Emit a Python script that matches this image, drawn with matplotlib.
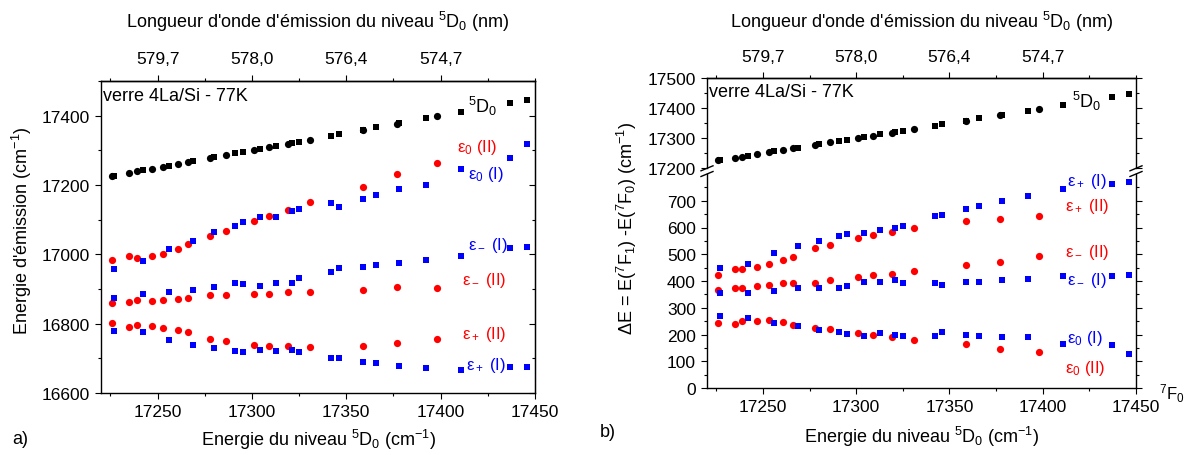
import matplotlib
matplotlib.use("Agg")
import matplotlib.pyplot as plt
import numpy as np
from matplotlib.lines import Line2D
from matplotlib.ticker import MultipleLocator

plt.rcParams["font.family"] = ["Liberation Sans", "DejaVu Sans"]
plt.rcParams["mathtext.fontset"] = "custom"
plt.rcParams["mathtext.rm"] = "Liberation Sans"
plt.rcParams["mathtext.it"] = "Liberation Sans:italic"
plt.rcParams["mathtext.bf"] = "Liberation Sans:bold"
plt.rcParams["mathtext.default"] = "regular"

W, H = 1185, 456
RED = "#ff0000"
BLUE = "#0000ff"
BLACK = "#000000"

# site II (circles): 5D0 energy and 7F1 sublevel splittings (cm-1)
e5d0_site2 = [17226, 17235, 17239, 17247, 17253, 17261, 17266, 17278, 17286,
              17301, 17309, 17319, 17331, 17359, 17377, 17398]
eps0_site2 = [243, 239, 249, 252, 253, 246, 237, 225, 219, 206, 198, 191, 181, 166, 146, 134]
epsm_site2 = [367, 372, 372, 382, 386, 391, 391, 394, 403, 416, 422, 428, 439, 461, 472, 495]
epsp_site2 = [423, 444, 444, 453, 465, 479, 491, 522, 536, 562, 573, 582, 597, 623, 632, 642]

# site I (squares)
e5d0_site1 = [17227, 17242, 17256, 17269, 17280, 17291, 17295, 17304, 17313, 17321,
              17325, 17342, 17346, 17359, 17366, 17378, 17392, 17411, 17437, 17446]
eps0_site1 = [269, 262, 242, 231, 216, 209, 201, 196, 205, 197,
              194, 194, 209, 200, 194, 190, 192, 164, 159, 128]
epsm_site1 = [354, 357, 364, 372, 375, 375, 380, 395, 397, 403,
              394, 394, 386, 395, 398, 402, 408, 417, 418, 424]
epsp_site1 = [447, 465, 503, 531, 551, 570, 576, 580, 591, 598,
              607, 642, 645, 670, 680, 699, 719, 745, 763, 770]

wl_ticks = [17250, 17300, 17350, 17400]
wl_labels = ["579,7", "578,0", "576,4", "574,7"]

FS = 13
TICK_FS = 12.5
LAB_FS = 12


def px_rect(x0, y0, x1, y1):
    return [x0 / W, 1 - y1 / H, (x1 - x0) / W, (y1 - y0) / H]


def style(ax):
    for sp in ax.spines.values():
        sp.set_linewidth(1.0)
    ax.tick_params(which="major", length=4.5, width=0.8, labelsize=TICK_FS, direction="out")
    ax.tick_params(which="minor", length=2.5, width=0.8, direction="out")


def wavelength_axis(ax):
    sec = ax.secondary_xaxis("top")
    sec.set_xticks(wl_ticks, labels=wl_labels)
    sec.xaxis.set_minor_locator(MultipleLocator(25))
    sec.tick_params(which="major", length=4.5, width=0.8, labelsize=TICK_FS, pad=6)
    sec.tick_params(which="minor", length=2.5, width=0.8)
    sec.spines["top"].set_linewidth(1.0)
    return sec


fig = plt.figure(figsize=(W / 100, H / 100), dpi=100)
fig.patch.set_facecolor("white")

mk = dict(linestyle="none", markeredgewidth=0)
circ = dict(marker="o", markersize=5.2, **mk)
sq = dict(marker="s", markersize=4.6, **mk)

# ---------------- panel a ----------------
axa = fig.add_axes(px_rect(101, 82, 535, 394))
style(axa)
axa.set_xlim(17220, 17450)
axa.set_ylim(16600, 17500)
axa.xaxis.set_major_locator(MultipleLocator(50))
axa.xaxis.set_minor_locator(MultipleLocator(25))
axa.yaxis.set_major_locator(MultipleLocator(200))
axa.yaxis.set_minor_locator(MultipleLocator(100))
axa.set_yticks([16600, 16800, 17000, 17200, 17400])

x2 = np.array(e5d0_site2)
x1 = np.array(e5d0_site1)
axa.plot(x2, x2, color=BLACK, **circ)
axa.plot(x1, x1, color=BLACK, **sq)
for eps in (eps0_site2, epsm_site2, epsp_site2):
    axa.plot(x2, x2 - np.array(eps), color=RED, **circ)
for eps in (eps0_site1, epsm_site1, epsp_site1):
    axa.plot(x1, x1 - np.array(eps), color=BLUE, **sq)

wavelength_axis(axa)
secr = axa.secondary_yaxis("right")
secr.yaxis.set_major_locator(MultipleLocator(200))
secr.yaxis.set_minor_locator(MultipleLocator(100))
secr.tick_params(which="major", direction="in", length=4.5, width=0.8, labelright=False)
secr.tick_params(which="minor", direction="in", length=2.5, width=0.8, labelright=False)

axa.text(17221, 17457, "verre 4La/Si - 77K", fontsize=FS, ha="left", va="center")
axa.text(17414.5, 17429, "$^5$D$_0$", fontsize=FS, color=BLACK, ha="left", va="center")
axa.text(17408.7, 17312, "ε$_0$ (II)", fontsize=LAB_FS, color=RED, ha="left", va="center")
axa.text(17414.5, 17232, "ε$_0$ (I)", fontsize=LAB_FS, color=BLUE, ha="left", va="center")
axa.text(17414.5, 17027, "ε$_-$ (I)", fontsize=LAB_FS, color=BLUE, ha="left", va="center")
axa.text(17411.3, 16927, "ε$_-$ (II)", fontsize=LAB_FS, color=RED, ha="left", va="center")
axa.text(17411.3, 16773, "ε$_+$ (II)", fontsize=LAB_FS, color=RED, ha="left", va="center")
axa.text(17413.4, 16681, "ε$_+$ (I)", fontsize=LAB_FS, color=BLUE, ha="left", va="center")

# ---------------- panel b ----------------
axt = fig.add_axes(px_rect(707, 79.3, 1136, 169.3))
axb = fig.add_axes(px_rect(707, 175, 1136, 389))
for ax in (axt, axb):
    style(ax)
    ax.set_xlim(17220, 17450)
    ax.xaxis.set_major_locator(MultipleLocator(50))
    ax.xaxis.set_minor_locator(MultipleLocator(25))
    ax.tick_params(axis="y", which="both", right=True)

axt.set_ylim(17200, 17500)
axt.set_yticks([17200, 17300, 17400, 17500])
axt.yaxis.set_minor_locator(MultipleLocator(50))
axt.spines["bottom"].set_visible(False)
axt.tick_params(axis="x", which="both", bottom=False, labelbottom=False)

axb.set_ylim(0, 800)
axb.set_yticks(np.arange(0, 701, 100))
axb.set_yticks(np.arange(50, 751, 100), minor=True)
axb.spines["top"].set_visible(False)

axt.plot(x2, x2, color=BLACK, **circ)
axt.plot(x1, x1, color=BLACK, **sq)
for eps in (eps0_site2, epsm_site2, epsp_site2):
    axb.plot(x2, eps, color=RED, **circ)
for eps in (eps0_site1, epsm_site1, epsp_site1):
    axb.plot(x1, eps, color=BLUE, **sq)

wavelength_axis(axt)

axt.text(17221, 17455, "verre 4La/Si - 77K", fontsize=FS, ha="left", va="center")
axt.text(17415.7, 17425, "$^5$D$_0$", fontsize=FS, color=BLACK, ha="left", va="center")
axb.text(17412.9, 775, "ε$_+$ (I)", fontsize=LAB_FS, color=BLUE, ha="left", va="center")
axb.text(17412, 681, "ε$_+$ (II)", fontsize=LAB_FS, color=RED, ha="left", va="center")
axb.text(17412, 509, "ε$_-$ (II)", fontsize=LAB_FS, color=RED, ha="left", va="center")
axb.text(17413, 407, "ε$_-$ (I)", fontsize=LAB_FS, color=BLUE, ha="left", va="center")
axb.text(17413, 190, "ε$_0$ (I)", fontsize=LAB_FS, color=BLUE, ha="left", va="center")
axb.text(17412, 77, "ε$_0$ (II)", fontsize=LAB_FS, color=RED, ha="left", va="center")

# axis break marks
for xb in (707, 1136):
    for yb in (169.3, 175):
        fig.add_artist(Line2D([(xb - 6) / W, (xb + 6) / W],
                              [1 - (yb + 2.5) / H, 1 - (yb - 2.5) / H],
                              color=BLACK, linewidth=1.0, transform=fig.transFigure))

# ---------------- figure texts ----------------
title = "Longueur d'onde d'émission du niveau $^5$D$_0$ (nm)"
xlab = "Energie du niveau $^5$D$_0$ (cm$^{-1}$)"
fig.text(318 / W, 1 - 22 / H, title, fontsize=FS, ha="center", va="center")
fig.text(922 / W, 1 - 22 / H, title, fontsize=FS, ha="center", va="center")
fig.text(319 / W, 1 - 440 / H, xlab, fontsize=FS, ha="center", va="center")
fig.text(922 / W, 1 - 437 / H, xlab, fontsize=FS, ha="center", va="center")
fig.text(21.7 / W, 1 - 230.5 / H, "Energie d'émission (cm$^{-1}$)", fontsize=FS,
         rotation=90, ha="center", va="center")
fig.text(627 / W, 1 - 228 / H, "ΔE = E($^7$F$_1$) -E($^7$F$_0$) (cm$^{-1}$)", fontsize=FS,
         rotation=90, ha="center", va="center")
fig.text(1184 / W, 1 - 394 / H, "$^7$F$_0$", fontsize=12, ha="right", va="center")
fig.text(12 / W, 1 - 440 / H, "a)", fontsize=FS, ha="left", va="center")
fig.text(600 / W, 1 - 433 / H, "b)", fontsize=FS, ha="left", va="center")

fig.savefig("out.png", dpi=100, facecolor="white")
